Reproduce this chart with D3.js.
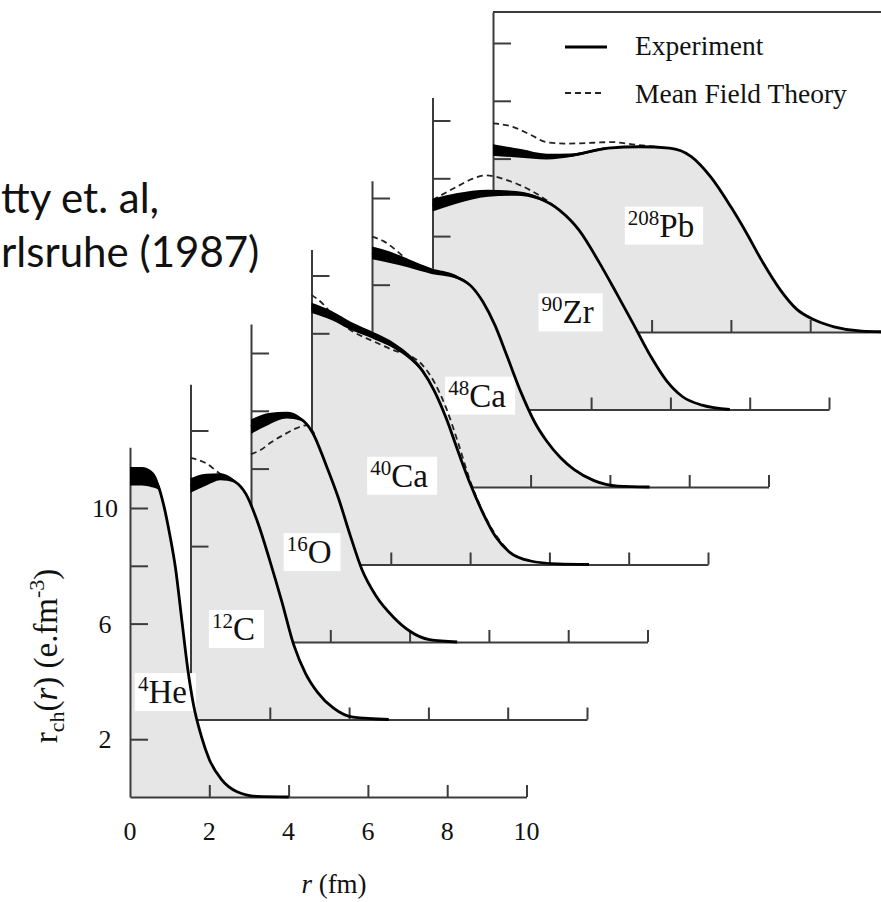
<!DOCTYPE html>
<html>
<head>
<meta charset="utf-8">
<script src="https://cdn.jsdelivr.net/npm/d3@7"></script>
<style>
  body { margin: 0; background: #fff; }
  svg { display: block; }
</style>
</head>
<body>
<script>
// charge densities (units of the printed axis), r in fm
const massNumbers = ["4", "12", "16", "40", "48", "90", "208"];
const symbols = ["He", "C", "O", "Ca", "Ca", "Zr", "Pb"];

const rHe   = [0, 0.3, 0.55, 0.7, 0.85, 1.0, 1.15, 1.3, 1.45, 1.6, 1.8, 2.0, 2.3, 2.7, 3.2, 4.0];
const expHe = [11.1, 11.1, 11.0, 10.8, 10.1, 9.1, 7.9, 6.2, 4.5, 3.2, 2.1, 1.3, 0.62, 0.18, 0.02, 0];
const errHe = [0.32, 0.32, 0.28, 0.15, 0.05, 0, 0, 0, 0, 0, 0, 0, 0, 0, 0, 0];

const rC   = [0, 0.4, 0.75, 1.1, 1.4, 1.7, 2.0, 2.3, 2.6, 2.9, 3.2, 3.6, 4.1, 5.0];
const expC = [8.1, 8.3, 8.4, 8.25, 7.8, 6.8, 5.5, 4.1, 2.6, 1.6, 0.95, 0.4, 0.08, 0];
const errC = [0.25, 0.2, 0.12, 0.05, 0, 0, 0, 0, 0, 0, 0, 0, 0, 0];

const rO   = [0, 0.45, 0.9, 1.25, 1.55, 1.9, 2.2, 2.5, 2.8, 3.15, 3.6, 4.0, 4.5, 5.2];
const expO = [7.45, 7.72, 7.85, 7.72, 7.25, 6.1, 5.0, 3.7, 2.5, 1.6, 0.85, 0.38, 0.08, 0];
const errO = [0.25, 0.2, 0.12, 0.06, 0, 0, 0, 0, 0, 0, 0, 0, 0, 0];

const rCa40   = [0, 0.5, 1.0, 1.6, 2.1, 2.5, 2.8, 3.1, 3.4, 3.7, 4.0, 4.3, 4.65, 5.0, 5.5, 6.2, 7.0];
const expCa40 = [8.88, 8.62, 8.25, 7.9, 7.56, 7.15, 6.7, 6.0, 5.05, 3.9, 2.8, 1.85, 0.95, 0.42, 0.13, 0.02, 0];
const errCa40 = [0.18, 0.16, 0.14, 0.12, 0.1, 0.08, 0.06, 0.04, 0.02, 0, 0, 0, 0, 0, 0, 0, 0];

const rCa48   = [0, 0.45, 0.9, 1.5, 2.1, 2.5, 2.8, 3.1, 3.4, 3.75, 4.1, 4.4, 4.75, 5.1, 5.6, 6.2, 7.0];
const expCa48 = [8.1, 7.95, 7.75, 7.47, 7.28, 6.95, 6.4, 5.6, 4.55, 3.3, 2.25, 1.6, 1.02, 0.6, 0.22, 0.03, 0];
const errCa48 = [0.22, 0.2, 0.15, 0.1, 0.06, 0.03, 0, 0, 0, 0, 0, 0, 0, 0, 0, 0, 0];

const rZr   = [0, 0.6, 1.4, 2.1, 2.7, 3.2, 3.7, 4.2, 4.65, 5.05, 5.5, 5.9, 6.3, 6.8, 7.5];
const expZr = [7.07, 7.3, 7.48, 7.48, 7.3, 6.9, 6.2, 5.1, 4.0, 3.0, 1.85, 1.0, 0.45, 0.15, 0];
const errZr = [0.22, 0.18, 0.12, 0.08, 0.05, 0.02, 0, 0, 0, 0, 0, 0, 0, 0, 0];

const rPb   = [0, 0.7, 1.35, 2.0, 2.9, 3.7, 4.45, 5.0, 5.5, 6.0, 6.4, 6.8, 7.25, 7.65, 8.1, 8.6, 9.3, 10.2];
const expPb = [6.3, 6.18, 6.07, 6.12, 6.36, 6.41, 6.36, 6.07, 5.35, 4.33, 3.41, 2.42, 1.45, 0.8, 0.42, 0.18, 0.03, 0];
const errPb = [0.2, 0.15, 0.1, 0.06, 0.03, 0, 0, 0, 0, 0, 0, 0, 0, 0, 0, 0, 0, 0];

// mean field theory, only where it separates from the data
const mftRC = [0, 0.4, 0.75, 1.1];
const mftC  = [9.05, 8.86, 8.5, 8.27];
const mftRO = [0, 0.25, 0.5, 0.8, 1.15, 1.4, 1.6];
const mftO  = [6.5, 6.65, 6.9, 7.15, 7.4, 7.5, 7.2];
const mftRCa40 = [0, 0.3, 0.55, 1.0, 1.6, 2.1, 2.5, 2.8, 3.1, 3.4, 3.7, 4.0, 4.5, 5.0];
const mftCa40  = [9.33, 9.0, 8.6, 8.1, 7.7, 7.4, 7.22, 6.9, 6.3, 5.4, 4.2, 2.9, 1.35, 0.42];
const mftRCa48 = [0, 0.3, 0.6, 0.9, 1.2];
const mftCa48  = [8.66, 8.5, 8.2, 7.85, 7.6];
const mftRZr = [0, 0.6, 1.0, 1.35, 1.85, 2.45, 2.9, 3.2];
const mftZr  = [7.25, 7.7, 7.98, 8.1, 7.95, 7.6, 7.22, 6.9];
const mftRPb = [0, 0.5, 0.95, 1.35, 1.8, 2.2, 3.0, 3.6, 4.2];
const mftPb  = [7.22, 7.1, 6.82, 6.57, 6.52, 6.53, 6.57, 6.48, 6.4];

// per panel axis extent, y ticks and label anchor (r, value)
const axisTops = [12.1, 11.6, 11.0, 10.9, 10.6, 10.8, 11.07];
const yTicks = [[2, 6, 8, 10], [6, 10], [6, 8, 10], [8, 10], [7, 10], [6, 8, 10], [6, 8, 10]];
const labelPos = [[0.2, 3.25], [0.54, 2.75], [0.9, 2.73], [1.48, 2.69], [1.92, 2.78], [2.75, 2.98], [3.4, 3.3]];

const xTickValues = [2, 4, 6, 8, 10];
const xTickLabels = [0, 2, 4, 6, 8, 10];
const yTickLabels = [2, 6, 10];

const nuclei = [
    { r: rHe, exp: expHe, err: errHe, mr: [], mft: [] },
    { r: rC, exp: expC, err: errC, mr: mftRC, mft: mftC },
    { r: rO, exp: expO, err: errO, mr: mftRO, mft: mftO },
    { r: rCa40, exp: expCa40, err: errCa40, mr: mftRCa40, mft: mftCa40 },
    { r: rCa48, exp: expCa48, err: errCa48, mr: mftRCa48, mft: mftCa48 },
    { r: rZr, exp: expZr, err: errZr, mr: mftRZr, mft: mftZr },
    { r: rPb, exp: expPb, err: errPb, mr: mftRPb, mft: mftPb }
].map((d, i) => Object.assign(d, {
    mass: massNumbers[i], sym: symbols[i], top: axisTops[i], ticks: yTicks[i], lab: labelPos[i]
}));

const width = 881, height = 902;
const serif = "'Liberation Serif', 'DejaVu Serif', serif";
const pxPerFm = 39.65, pxPerUnit = 28.9;
const origin = { x: 130, y: 797 };
const shift = { x: 60.5, y: -77.5 };   // offset between stacked panels
const axisColor = "#3c3c3c";

const svg = d3.select("body").append("svg")
    .attr("width", width)
    .attr("height", height)
    .style("background", "#fff");

const x = d3.scaleLinear().domain([0, 10]).range([0, 10 * pxPerFm]);

function drawPanel(d, i) {
    const g = svg.append("g")
        .attr("transform", `translate(${origin.x + i * shift.x},${origin.y + i * shift.y})`);
    const y = d3.scaleLinear().domain([0, d.top]).range([0, -d.top * pxPerUnit]);
    const pts = d.r.map((r, k) => ({ r, v: d.exp[k], e: d.err[k] }));

    // grey area under the measured density
    g.append("path").datum(pts)
        .attr("fill", "#e6e6e6")
        .attr("d", d3.area().x(p => x(p.r)).y0(y(0)).y1(p => y(p.v + p.e)).curve(d3.curveMonotoneX));

    const xa = g.append("g").call(d3.axisBottom(x).tickValues(xTickValues)
        .tickSize(-12).tickSizeOuter(0).tickFormat(""));
    const ya = g.append("g").call(d3.axisLeft(y).tickValues(d.ticks)
        .tickSize(-18).tickSizeOuter(0).tickFormat(""));
    [xa, ya].forEach(a => {
        a.selectAll("path, line").attr("stroke", axisColor).attr("stroke-width", 2);
    });

    // the rearmost panel keeps its top frame line
    if (i === nuclei.length - 1) {
        g.append("line")
            .attr("x1", x(0)).attr("x2", x(10))
            .attr("y1", y(d.top)).attr("y2", y(d.top))
            .attr("stroke", axisColor).attr("stroke-width", 2);
    }

    // nucleus label in a white box
    const lab = g.append("g");
    const t = lab.append("text")
        .attr("x", x(d.lab[0])).attr("y", y(d.lab[1]))
        .style("font-family", serif).style("font-size", "33px").attr("fill", "#111");
    t.append("tspan").text(d.mass).style("font-size", "21px").attr("dy", -12);
    t.append("tspan").text(d.sym).attr("dy", 12);
    const bb = t.node().getBBox();
    lab.insert("rect", "text")
        .attr("x", bb.x - 3).attr("y", bb.y + 1)
        .attr("width", bb.width + 12).attr("height", bb.height)
        .attr("fill", "#fff");

    if (d.mr.length) {
        g.append("path").datum(d.mr.map((r, k) => ({ r, v: d.mft[k] })))
            .attr("fill", "none").attr("stroke", "#222")
            .attr("stroke-width", 1.8).attr("stroke-dasharray", "6,4")
            .attr("d", d3.line().x(p => x(p.r)).y(p => y(p.v)).curve(d3.curveMonotoneX));
    }

    // experimental error band and central line
    g.append("path").datum(pts)
        .attr("fill", "#000")
        .attr("d", d3.area().x(p => x(p.r)).y0(p => y(p.v - p.e)).y1(p => y(p.v + p.e)).curve(d3.curveMonotoneX));
    g.append("path").datum(pts)
        .attr("fill", "none").attr("stroke", "#000").attr("stroke-width", 2.8)
        .attr("d", d3.line().x(p => x(p.r)).y(p => y(p.v)).curve(d3.curveMonotoneX));

    return y;
}

// back to front so the nearer panels hide the ones behind
let yFront;
d3.range(nuclei.length).reverse().forEach(i => {
    const y = drawPanel(nuclei[i], i);
    if (i === 0) yFront = y;
});

// tick labels of the front panel
svg.append("g").selectAll("text").data(xTickLabels).join("text")
    .attr("x", v => origin.x + x(v)).attr("y", origin.y + 43)
    .attr("text-anchor", "middle")
    .style("font-family", serif).style("font-size", "26px").attr("fill", "#111")
    .text(v => v);
svg.append("g").selectAll("text").data(yTickLabels).join("text")
    .attr("x", origin.x - 25).attr("y", v => origin.y + yFront(v) + 9)
    .attr("text-anchor", "middle")
    .style("font-family", serif).style("font-size", "26px").attr("fill", "#111")
    .text(v => v);

// axis titles
const xt = svg.append("text")
    .attr("x", 334).attr("y", 893).attr("text-anchor", "middle")
    .style("font-family", serif).style("font-size", "27px").attr("fill", "#111");
xt.append("tspan").text("r").style("font-style", "italic");
xt.append("tspan").text(" (fm)");

const yt = svg.append("text")
    .attr("transform", "translate(57,656) rotate(-90)").attr("text-anchor", "middle")
    .style("font-family", serif).style("font-size", "33px").attr("fill", "#111");
yt.append("tspan").text("r");
yt.append("tspan").text("ch").style("font-size", "22px").attr("dy", 7);
yt.append("tspan").text("(").attr("dy", -7);
yt.append("tspan").text("r").style("font-style", "italic");
yt.append("tspan").text(") (e.fm");
yt.append("tspan").text("-3").style("font-size", "22px").attr("dy", -13);
yt.append("tspan").text(")").attr("dy", 13);

// legend
const legend = svg.append("g").style("font-family", serif).style("font-size", "27.5px");
legend.append("line").attr("x1", 565).attr("x2", 607).attr("y1", 47).attr("y2", 47)
    .attr("stroke", "#000").attr("stroke-width", 3);
legend.append("line").attr("x1", 565).attr("x2", 605).attr("y1", 93).attr("y2", 93)
    .attr("stroke", "#222").attr("stroke-width", 1.8).attr("stroke-dasharray", "6,4");
legend.append("text").attr("x", 635).attr("y", 55).attr("fill", "#111").text("Experiment");
legend.append("text").attr("x", 635).attr("y", 103).attr("fill", "#111").text("Mean Field Theory");

// slide caption at the left edge
const caption = svg.append("g")
    .style("font-family", "Lato, 'Open Sans', sans-serif").style("font-size", "42px")
    .attr("fill", "#111");
caption.append("text").attr("x", 1).attr("y", 213).text("tty et. al,");
caption.append("text").attr("x", 1).attr("y", 267).text("rlsruhe (1987)");
</script>
</body>
</html>
